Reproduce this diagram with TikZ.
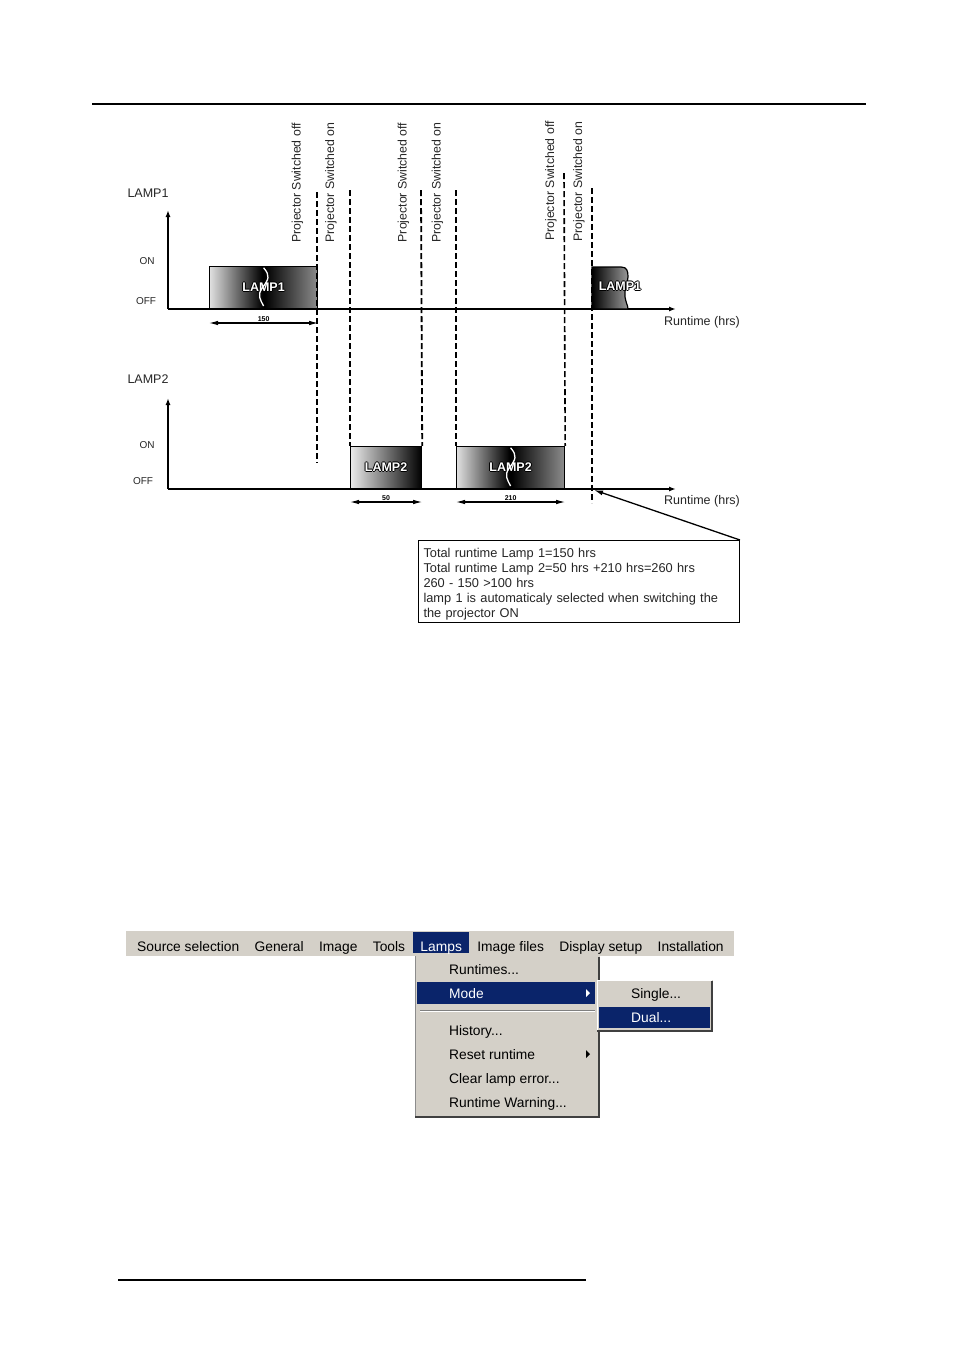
\documentclass[tikz,border=0pt]{standalone}
\usepackage{fontspec}
\setmainfont{Liberation Sans}
\usetikzlibrary{arrows.meta,positioning}
\definecolor{menugray}{RGB}{212,208,200}
\definecolor{menusel}{RGB}{10,36,106}
\definecolor{menushadow}{RGB}{64,64,64}
\pgfdeclarehorizontalshading{lampbreak}{100bp}{color(0bp)=(black!12); color(25bp)=(black!12); color(49.5bp)=(black); color(50.5bp)=(black); color(75bp)=(black!45); color(100bp)=(black!45)}
\newcommand{\outl}[1]{\leavevmode\rlap{\color{black}\kern-1pt#1}\rlap{\color{black}\kern1pt#1}\rlap{\color{black}\raisebox{1pt}{#1}}\rlap{\color{black}\raisebox{-1pt}{#1}}{\color{white}#1}}

\begin{document}
\begin{tikzpicture}[
    x=1pt,y=-1pt,
    axis/.style={-{Latex[length=7pt,width=5pt]},line width=1.4pt},
    dim/.style={{Latex[length=9pt,width=4.5pt]}-{Latex[length=9pt,width=4.5pt]},line width=1.1pt},
    switchline/.style={dashed,dash pattern=on 6pt off 3pt,line width=#1},
    switchline/.default=1.5pt,
    switchlabel/.style={rotate=90,inner sep=0pt,text=black!85,font=\fontsize{12.3}{14}\selectfont},
    axislabel/.style={inner sep=0pt,text=black!85,font=\fontsize{12.5}{14}\selectfont},
    levellabel/.style={inner sep=0pt,text=black!85,font=\fontsize{10}{12}\selectfont},
    lampbox/.style={shade,draw=black,line width=1.2pt,minimum height=42pt,inner sep=0pt,
      font=\bfseries\fontsize{12.5}{12}\selectfont},
    breakline/.style={white,line width=1.3pt},
    hours/.style={inner sep=1pt,font=\bfseries\fontsize{7}{8}\selectfont},
    baritem/.style={inner xsep=7.5pt,inner ysep=0pt,minimum height=21pt,text height=17pt,text depth=0pt,
      font=\fontsize{13.8}{16}\selectfont},
    menuentry/.style={anchor=base west,inner sep=0pt,font=\fontsize{13.8}{16}\selectfont}
  ]
    \path[fill=white] (0,0) rectangle (954,1350);
    \draw[line width=2pt] (92,104) -- (866,104);
    \draw[line width=2pt] (118,1280) -- (586,1280);

    % lamp 1
    \coordinate (originone) at (168,309);
    \node[axislabel] (lamponelabel) at (148,193) {LAMP1};
    \node[levellabel] (ononelabel) at (147,261) {ON};
    \node[levellabel] (offonelabel) at (146,301) {OFF};
    \node[axislabel] (runone) at (702,322) {Runtime (hrs)};
    \draw[axis] (originone) -- (168,210);
    \draw[axis] (originone) -- (676,309);

    % lamp 2
    \coordinate (origintwo) at (168,489);
    \node[axislabel] (lamptwolabel) at (148,379) {LAMP2};
    \node[levellabel] (ontwolabel) at (147,445) {ON};
    \node[levellabel] (offtwolabel) at (143,481) {OFF};
    \node[axislabel] (runtwo) at (702,501) {Runtime (hrs)};
    \draw[axis] (origintwo) -- (168,398);
    \draw[axis] (origintwo) -- (676,489);

    \node[lampbox,shading=lampbreak,minimum width=108pt,anchor=south west] (lampone) at (209,309) {\outl{LAMP1}};
    \node[lampbox,left color=black!8,right color=black,minimum width=71pt,anchor=south west] (lamptwo) at (350,489) {\outl{LAMP2}};
    \node[lampbox,shading=lampbreak,minimum width=108pt,anchor=south west] (lampthree) at (456,489) {\outl{LAMP2}};
    \draw[line width=1.2pt,left color=black,right color=black!40] (592,309) -- (592,267) -- (621,267)
      .. controls (627,267) and (628,271) .. (628,277) .. controls (627,285) and (624,290) .. (625,297)
      .. controls (626,303) and (628,306) .. (628,309) -- cycle;
    \node[inner sep=0pt,font=\bfseries\fontsize{12.5}{12}\selectfont] (lampfour) at (620,286) {\outl{LAMP1}};

    \draw[breakline] ([yshift=-2pt]lampone.north) .. controls +(7,8) and +(6,-8) .. ([xshift=-1pt]lampone.center)
      .. controls +(-6,8) and +(-3,-6) .. ([yshift=3pt]lampone.south);
    \draw[breakline] ([yshift=-2pt]lampthree.north) .. controls +(7,8) and +(6,-8) .. ([xshift=-1pt]lampthree.center)
      .. controls +(-6,8) and +(-3,-6) .. ([yshift=3pt]lampthree.south);

    \draw[dim] ([yshift=-14pt]lampone.south west) -- node[hours,above] {150} ([yshift=-14pt]lampone.south east);
    \draw[dim] ([yshift=-13pt]lamptwo.south west) -- node[hours,above] {50} ([yshift=-13pt]lamptwo.south east);
    \draw[dim] ([yshift=-13pt]lampthree.south west) -- node[hours,above] {210} ([yshift=-13pt]lampthree.south east);

    % switching moments
    \draw[switchline=1.8pt] (317,192) -- (317,463);
    \draw[switchline=1.2pt] (350,190) -- (lamptwo.north west);
    \draw[switchline=1.8pt] (421,190) -- (lamptwo.north east);
    \draw[switchline=1.8pt] (456,190) -- (lampthree.north west);
    \draw[switchline=1.6pt] (564,173) -- (lampthree.north east);
    \draw[switchline=1.1pt] (592,188) -- (592,503);
    \node[switchlabel] (offa) at (297.5,183) {Projector Switched off};
    \node[switchlabel] (ona) at (331,182.5) {Projector Switched on};
    \node[switchlabel] (offb) at (403.5,182.5) {Projector Switched off};
    \node[switchlabel] (onb) at (437.5,182.5) {Projector Switched on};
    \node[switchlabel] (offc) at (551,181) {Projector Switched off};
    \node[switchlabel] (onc) at (579,181.5) {Projector Switched on};

    % note
    \node[draw,line width=1pt,anchor=north west,minimum width=321pt,minimum height=82pt,text width=311pt,
      inner xsep=5pt,inner ysep=0pt,align=left,text=black!85,font=\fontsize{12.8}{15}\selectfont] (note) at (418,540)
      {\rule{0pt}{14pt}Total runtime Lamp 1=150 hrs\\Total runtime Lamp 2=50 hrs +210 hrs=260 hrs\\260 - 150 >100 hrs\\
       lamp 1 is automaticaly selected when switching the\\the projector ON};
    \coordinate (switchback) at (594,490);
    \draw[-{Latex[length=9pt,width=5pt]},line width=1.3pt] (note.north east) -- (switchback);

    % menu
    \fill[menugray] (126,931) rectangle (734,956);
    \node[baritem,anchor=west] (msource) at (129.5,942.5) {Source selection};
    \node[baritem,right=0pt of msource] (mgeneral) {General};
    \node[baritem,right=0pt of mgeneral] (mimage) {Image};
    \node[baritem,right=0pt of mimage] (mtools) {Tools};
    \node[baritem,right=0pt of mtools,fill=menusel,text=white] (mlamps) {Lamps};
    \node[baritem,right=0pt of mlamps] (mfiles) {Image files};
    \node[baritem,right=0pt of mfiles] (mdisplay) {Display setup};
    \node[baritem,right=0pt of mdisplay] (minstall) {Installation};

    \fill[menugray] (415,956) rectangle (600,1118);
    \draw[black!45,line width=1pt] (415.5,956) -- (415.5,1117);
    \draw[menushadow,line width=2pt] (599,957) -- (599,1117) -- (415,1117);
    \fill[menusel] (417,982) rectangle (595,1004);
    \draw[black!50,line width=1pt] (420,1010.5) -- (595,1010.5);
    \draw[white,line width=1pt] (420,1011.8) -- (595,1011.8);
    \node[menuentry] (mruntimes) at (449,974) {Runtimes...};
    \node[menuentry,text=white] (mmode) at (449,998) {Mode};
    \node[menuentry] (mhistory) at (449,1035) {History...};
    \node[menuentry] (mreset) at (449,1059) {Reset runtime};
    \node[menuentry] (mclear) at (449,1083) {Clear lamp error...};
    \node[menuentry] (mwarning) at (449,1107) {Runtime Warning...};
    \fill[white] (586,989) -- (590,993) -- (586,997) -- cycle;
    \fill[black] (586,1050) -- (590,1054) -- (586,1058) -- cycle;

    \fill[menugray] (597,980) rectangle (713,1032);
    \draw[white,line width=1pt] (597.5,1031) -- (597.5,980.5) -- (712,980.5);
    \draw[menushadow,line width=2pt] (712,981) -- (712,1031) -- (597,1031);
    \fill[menusel] (599,1007) rectangle (710,1028);
    \node[menuentry] (msingle) at (631,998) {Single...};
    \node[menuentry,text=white] (mdual) at (631,1022) {Dual...};
  \end{tikzpicture}
\end{document}
